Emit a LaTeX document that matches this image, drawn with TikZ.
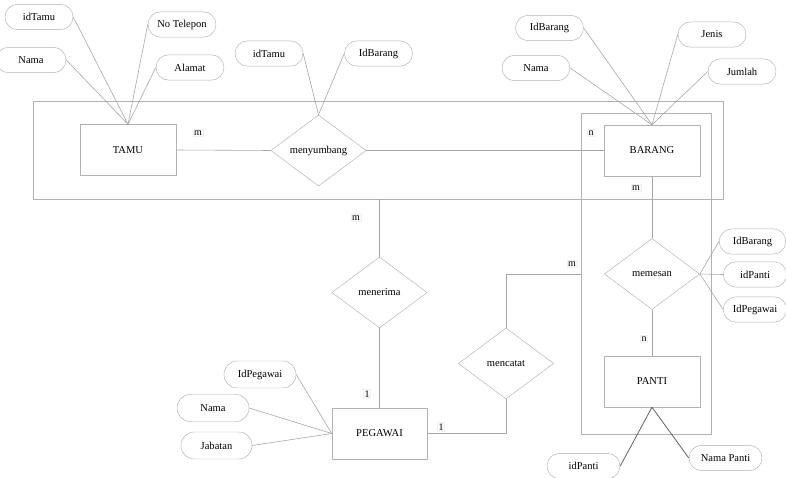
\documentclass[tikz,border=0pt]{standalone}
\usepackage{fontspec}
\setmainfont{Liberation Serif}
\usetikzlibrary{shapes.geometric}
\tikzset{
  entity/.style={draw=gray!60, rectangle, minimum width=2.88cm, minimum height=1.53cm, inner sep=0pt},
  relation/.style={draw=gray!60, diamond, minimum width=2.86cm, minimum height=2.13cm, inner sep=0pt},
  attr/.style={draw=gray!60, rounded corners=0.38cm, minimum width=2.04cm, minimum height=0.76cm, inner sep=0pt},
  card/.style={draw=gray!12, fill=gray!4, inner sep=1pt, font=\fontsize{8.5}{9}\selectfont},
  link/.style={draw=gray!70, line width=0.5pt}
}
\begin{document}
\begin{tikzpicture}[x=0.03cm,y=-0.03cm, font=\fontsize{9}{10}\selectfont, line join=round]
\useasboundingbox (0,0) rectangle (786,478);
% agregasi
\draw[gray!60] (33,101) rectangle (723,199);
\draw[gray!60] (581,113) rectangle (711,434);
\coordinate (aggbot) at (379.5,199);
\coordinate (agg2kiri) at (581,274);
% entitas
\node[entity] (tamu) at (128,150) {TAMU};
\node[entity] (barang) at (652,150.5) {BARANG};
\node[entity] (panti) at (652,381.5) {PANTI};
\node[entity, minimum width=2.85cm] (pegawai) at (379.5,433.5) {PEGAWAI};
% relasi
\node[relation] (menyumbang) at (318.5,150.5) {menyumbang};
\node[relation] (memesan) at (652,274) {memesan};
\node[relation] (menerima) at (379.5,292.5) {menerima};
\node[relation] (mencatat) at (506,363.5) {mencatat};
% atribut TAMU
\node[attr] (t1) at (39,17) {idTamu};
\node[attr, minimum width=2.1cm] (t2) at (31,60) {Nama};
\node[attr] (t3) at (182,24.5) {No Telepon};
\node[attr] (t4) at (190,67.5) {Alamat};
% atribut menyumbang
\node[attr] (s1) at (269,53.5) {idTamu};
\node[attr] (s2) at (378.5,53.5) {IdBarang};
% atribut BARANG
\node[attr] (b1) at (549.5,28) {IdBarang};
\node[attr] (b2) at (536,68) {Nama};
\node[attr] (b3) at (712,34.5) {Jenis};
\node[attr] (b4) at (742,71.5) {Jumlah};
% atribut memesan
\node[attr, minimum width=2.0cm] (p1) at (752.5,241.5) {IdBarang};
\node[attr, minimum width=1.9cm] (p2) at (755,274.5) {idPanti};
\node[attr, minimum width=1.9cm] (p3) at (755,309.5) {IdPegawai};
% atribut PANTI
\node[attr, minimum width=2.19cm] (n1) at (583.5,466) {idPanti};
\node[attr, minimum width=2.19cm] (n2) at (725.5,458) {Nama Panti};
% atribut PEGAWAI
\node[attr, minimum width=2.16cm, minimum height=0.81cm, rounded corners=0.4cm] (g1) at (260,374.5) {IdPegawai};
\node[attr, minimum width=2.16cm, minimum height=0.81cm, rounded corners=0.4cm] (g2) at (213,408) {Nama};
\node[attr, minimum width=2.13cm, minimum height=0.81cm, rounded corners=0.4cm] (g3) at (216.5,445.5) {Jabatan};
% garis atribut
\foreach \a in {t1,t2} \draw[link] (\a.east) -- (tamu.north);
\foreach \a in {t3,t4} \draw[link] (\a.west) -- (tamu.north);
\draw[link] (s1.east) -- (menyumbang.north);
\draw[link] (s2.west) -- (menyumbang.north);
\foreach \a in {b1,b2} \draw[link] (\a.east) -- (barang.north);
\foreach \a in {b3,b4} \draw[link] (\a.west) -- (barang.north);
\foreach \a in {p1,p2,p3} \draw[link] (memesan.east) -- (\a.west);
\draw[link, draw=gray!80!black, line width=0.7pt] (panti.south) -- (n1.east);
\draw[link, draw=gray!80!black, line width=0.7pt] (panti.south) -- (n2.west);
\foreach \a in {g1,g2,g3} \draw[link] (\a.east) -- (pegawai.west);
% garis relasi
\draw[link] (tamu.east) -- (menyumbang.west);
\draw[link] (menyumbang.east) -- (barang.west);
\draw[link] (barang.south) -- (memesan.north);
\draw[link] (memesan.south) -- (panti.north);
\draw[link] (aggbot) -- (menerima.north);
\draw[link] (menerima.south) -- (pegawai.north);
\draw[link] (pegawai.east) -| (mencatat.south);
\draw[link] (mencatat.north) |- (agg2kiri);
% kardinalitas
\foreach \p/\g/\c [count=\i] in {198/133/m,591/133/n,636/188/m,644/339/n,356/218/m,572/264/m,367/394/1,441/427/1}
  \node[card] (k\i) at (\p,\g) {\c};
\end{tikzpicture}
\end{document}
